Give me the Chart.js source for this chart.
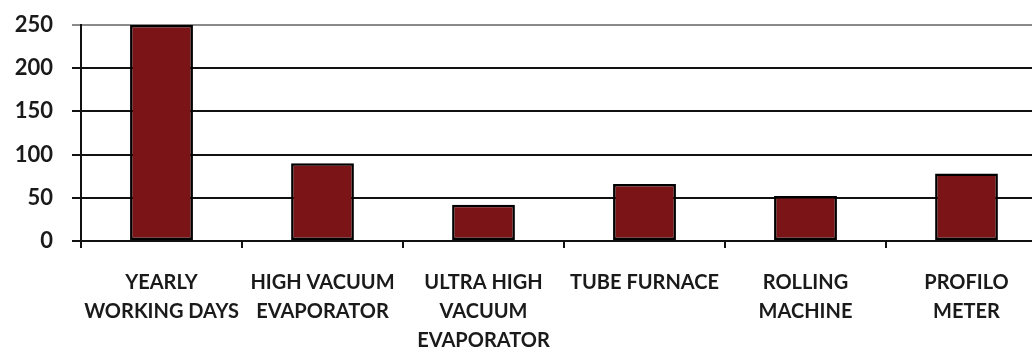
<!DOCTYPE html>
<html>
<head>
<meta charset="utf-8">
<script src="https://cdn.jsdelivr.net/npm/chart.js@4/dist/chart.umd.min.js"></script>
<style>
  html, body { margin: 0; padding: 0; background: #fff; overflow: hidden; }
  #wrap { position: relative; width: 1047px; height: 348px; }
</style>
</head>
<body>
<div id="wrap"><canvas id="c"></canvas></div>
<script>
// Equipment usage categories (multi-line labels)
const categories = [
  ['YEARLY', 'WORKING DAYS'],
  ['HIGH VACUUM', 'EVAPORATOR'],
  ['ULTRA HIGH', 'VACUUM', 'EVAPORATOR'],
  ['TUBE FURNACE'],
  ['ROLLING', 'MACHINE'],
  ['PROFILO', 'METER']
];
// Days per year
const dayValues = [250, 90, 42, 66, 52, 78];
// Value-axis ticks
const yTicks = [0, 50, 100, 150, 200, 250];

const FONT = 'Lato, "Open Sans", "DejaVu Sans", sans-serif';

new Chart(document.getElementById('c'), {
  type: 'bar',
  data: {
    labels: categories,
    datasets: [{
      data: dayValues,
      backgroundColor: '#7b1416',
      borderColor: '#000',
      borderWidth: 2.5,
      borderSkipped: false,
      barPercentage: 0.39,
      categoryPercentage: 1.0
    }]
  },
  options: {
    responsive: true,
    maintainAspectRatio: false,
    animation: false,
    layout: { padding: { top: 25, left: 0, right: 0, bottom: 0 } },
    plugins: { legend: { display: false }, tooltip: { enabled: false } },
    scales: {
      x: {
        offset: true,
        grid: {
          offset: true,
          drawOnChartArea: false,
          drawTicks: true,
          tickLength: 7,
          color: '#111',
          lineWidth: 2
        },
        border: { display: false },
        ticks: {
          padding: 20,
          color: '#1a1a1a',
          maxRotation: 0,
          autoSkip: false,
          font: { family: FONT, size: 20, weight: 'bold', lineHeight: 1.45 }
        },
        afterFit: s => { s.height = 107; s.paddingLeft = 0; s.paddingRight = 0; }
      },
      y: {
        min: 0,
        max: 250,
        afterBuildTicks: s => { s.ticks = yTicks.map(v => ({ value: v })); },
        grid: {
          color: ctx => (ctx.tick && ctx.tick.value === 250) ? '#8a8a8a' : '#111',
          lineWidth: 2,
          tickLength: 9,
          drawTicks: true
        },
        border: { display: true, color: '#111', width: 2 },
        ticks: {
          padding: 19,
          color: '#1a1a1a',
          font: { family: FONT, size: 22, weight: 'bold' }
        },
        afterFit: s => { s.width = 81; s.paddingTop = 0; s.paddingBottom = 0; }
      }
    }
  }
});
</script>
</body>
</html>
